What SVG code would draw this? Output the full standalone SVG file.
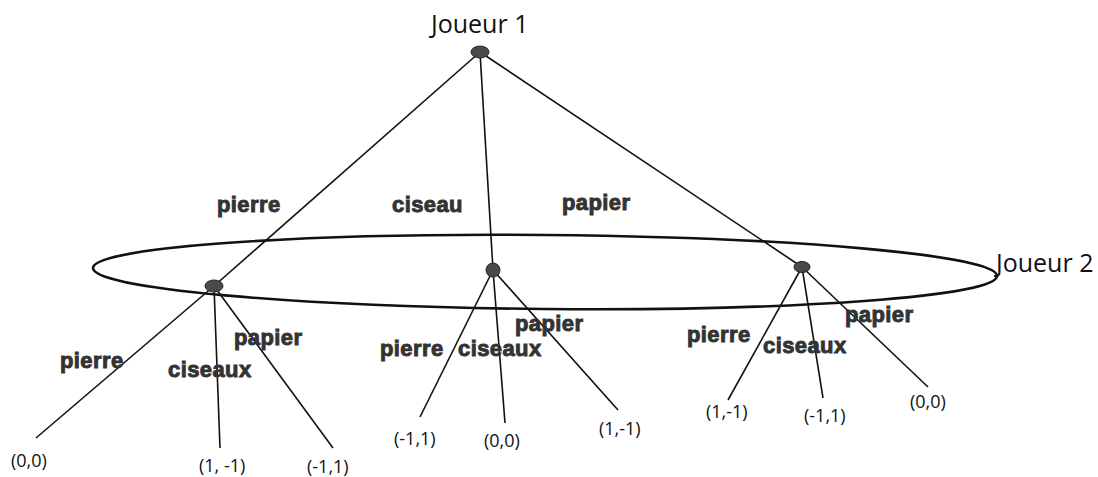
<svg xmlns="http://www.w3.org/2000/svg" width="1098" height="477" viewBox="0 0 1098 477">
<style>
.edge{stroke:#111;stroke-width:1.6;fill:none}
.node{fill:#4a4a4a;stroke:#222;stroke-width:1}
.lab{font-family:"Liberation Sans",Arial,sans-serif;font-weight:bold;font-size:22px;fill:#333;stroke:#333;stroke-width:0.9;letter-spacing:0.4px}
.pl{font-family:"Open Sans","Noto Sans",sans-serif;font-size:25px;fill:#111}
.pay{font-family:"Open Sans","Noto Sans",sans-serif;font-size:18px;fill:#111}
</style>
<rect width="1098" height="477" fill="#fff"/>
<g id="infoset">
<ellipse cx="545" cy="272" rx="452" ry="37" transform="rotate(0.5 545 272)" fill="none" stroke="#111" stroke-width="2.6"/>
<text class="pl" x="996" y="272">Joueur 2</text>
</g>
<g id="connectors">
<line class="edge" x1="480" y1="52" x2="214" y2="286"/>
<line class="edge" x1="480" y1="52" x2="493" y2="270"/>
<line class="edge" x1="480" y1="52" x2="802" y2="267"/>
<line class="edge" x1="214" y1="286" x2="36" y2="438"/>
<line class="edge" x1="214" y1="286" x2="220" y2="448"/>
<line class="edge" x1="214" y1="286" x2="333" y2="448"/>
<line class="edge" x1="493" y1="270" x2="420" y2="417"/>
<line class="edge" x1="493" y1="270" x2="505" y2="423"/>
<line class="edge" x1="493" y1="270" x2="618" y2="410"/>
<line class="edge" x1="802" y1="267" x2="728" y2="400"/>
<line class="edge" x1="802" y1="267" x2="823" y2="398"/>
<line class="edge" x1="802" y1="267" x2="928" y2="387"/>
</g>
<g id="edge-labels">
<text class="lab" x="217" y="212">pierre</text>
<text class="lab" x="392" y="212">ciseau</text>
<text class="lab" x="562" y="210">papier</text>
<text class="lab" x="60" y="368">pierre</text>
<text class="lab" x="168" y="377">ciseaux</text>
<text class="lab" x="234" y="345">papier</text>
<text class="lab" x="380" y="356">pierre</text>
<text class="lab" x="458" y="356">ciseaux</text>
<text class="lab" x="515" y="331">papier</text>
<text class="lab" x="687" y="342">pierre</text>
<text class="lab" x="763" y="353">ciseaux</text>
<text class="lab" x="845" y="322">papier</text>
</g>
<g id="root">
<ellipse class="node" cx="480" cy="52" rx="9" ry="6"/>
<text class="pl" x="431" y="33">Joueur 1</text>
</g>
<g id="n-pierre">
<ellipse class="node" cx="214" cy="286" rx="9" ry="6"/>
</g>
<g id="n-ciseau">
<ellipse class="node" cx="493" cy="270" rx="7" ry="7"/>
</g>
<g id="n-papier">
<ellipse class="node" cx="802" cy="267" rx="8" ry="5.5"/>
</g>
<g id="leaves">
<text class="pay" x="11" y="467">(0,0)</text>
<text class="pay" x="199" y="472">(1, -1)</text>
<text class="pay" x="307" y="473">(-1,1)</text>
<text class="pay" x="394" y="445">(-1,1)</text>
<text class="pay" x="484" y="447">(0,0)</text>
<text class="pay" x="599" y="435">(1,-1)</text>
<text class="pay" x="706" y="418">(1,-1)</text>
<text class="pay" x="804" y="422">(-1,1)</text>
<text class="pay" x="910" y="408">(0,0)</text>
</g>
</svg>
